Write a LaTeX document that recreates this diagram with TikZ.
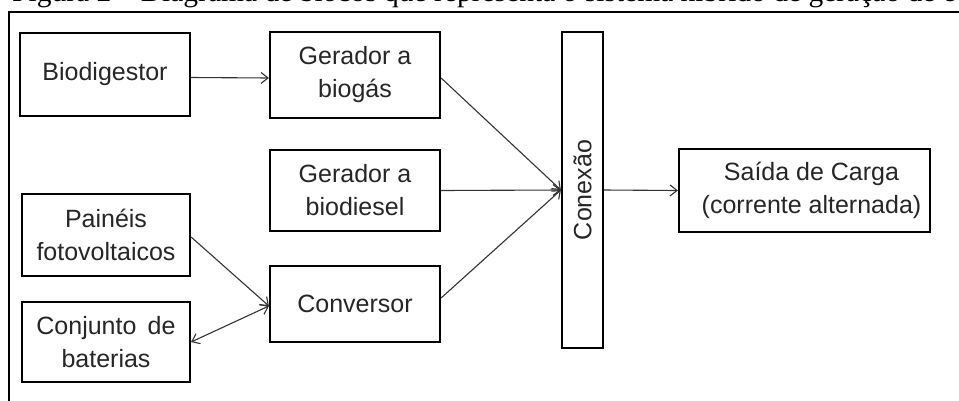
\documentclass[tikz,border=0pt]{standalone}
\usepackage{fontspec}
\setmainfont{Liberation Sans}
\newfontfamily\capfont{Liberation Serif}
\usetikzlibrary{arrows.meta}
\tikzset{
  blockbox/.style={draw=black, line width=2.2pt, rectangle, align=center, inner sep=0pt,
    font=\fontsize{25}{33}\selectfont, text=black!85},
  conn/.style={draw=black!80, line width=1.1pt, -{Straight Barb[length=7pt,width=11pt,line width=1.1pt]}},
  conn2/.style={draw=black!80, line width=1.1pt, {Straight Barb[length=7pt,width=11pt,line width=1.1pt]}-{Straight Barb[length=7pt,width=11pt,line width=1.1pt]}},
}
\begin{document}
\begin{tikzpicture}[x=1pt,y=-1pt]
\useasboundingbox (0,0) rectangle (959,400);
\clip (0,0) rectangle (959,400);
\fill[white] (0,0) rectangle (959,400);
% caption (cut off at top)
\node[anchor=base west, inner sep=0pt, font=\capfont\fontsize{29.5}{32}\selectfont] (cap) at (12,1)
  {Figura 2 – Diagrama de blocos que representa o sistema híbrido de geração de e};
% outer frame
\draw[line width=2pt] (970,11.5) -- (9,11.5) -- (9,410);
% blocks
\node[blockbox, minimum width=170pt, minimum height=83pt] (bio) at (105,74.5) {Biodigestor};
\node[blockbox, minimum width=170pt, minimum height=86pt] (gbio) at (355,75) {Gerador a\\biogás};
\node[blockbox, minimum width=170pt, minimum height=81pt] (gdie) at (355,190.5) {Gerador a\\biodiesel};
\node[blockbox, minimum width=170pt, minimum height=76pt] (conv) at (355,304) {Conversor};
\node[blockbox, minimum width=168pt, minimum height=82pt] (pain) at (106,235) {Painéis\\fotovoltaicos};
\node[blockbox, minimum width=168pt, minimum height=80pt] (conj) at (106,342) {Conjunto\hspace{0.45em}de\\baterias};
\node[blockbox, minimum width=41pt, minimum height=316pt] (cx) at (582.5,190) {};
\node[rotate=90, inner sep=0pt, font=\fontsize{25}{33}\selectfont, text=black!85] (cxt) at (cx.center) {Conexão};
\node[blockbox, minimum width=251pt, minimum height=83pt] (said) at (804.5,190.5) {\hspace{14pt}Saída de Carga\\\hspace{14pt}(corrente alternada)};
% connectors
\draw[conn] ([yshift=-3pt]bio.east) -- ([yshift=-3pt]gbio.west);
\draw[conn] ([yshift=-3pt]gbio.east) -- (cx.west);
\draw[conn] (gdie.east) -- (cx.west);
\draw[conn] ([yshift=6pt]conv.east) -- (cx.west);
\draw[conn] ([yshift=-2pt]pain.east) -- ([yshift=-2pt]conv.west);
\draw[conn2] (conj.east) -- ([yshift=-2pt]conv.west);
\draw[conn] (cx.east) -- (said.west);
\end{tikzpicture}
\end{document}
